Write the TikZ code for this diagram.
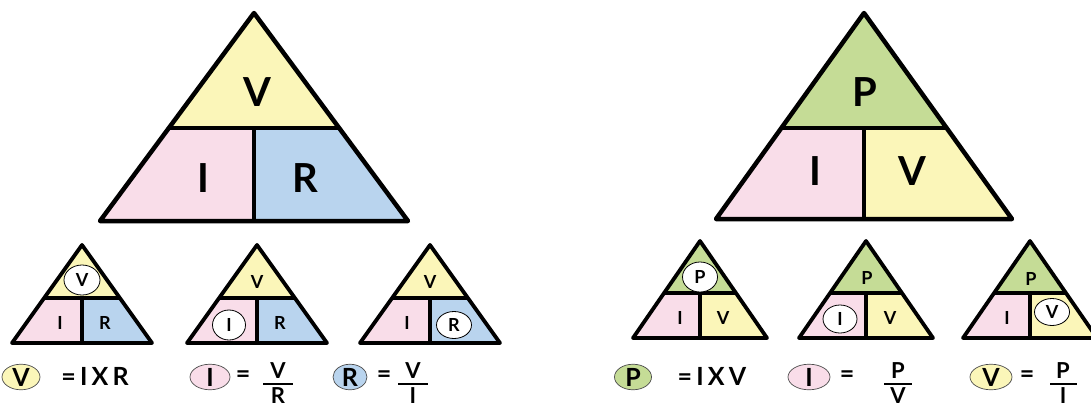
\documentclass[tikz,border=0pt]{standalone}
\usepackage{fontspec}
\setmainfont{Lato}
\usetikzlibrary{calc,shapes.geometric}
\definecolor{cy}{RGB}{251,246,185}
\definecolor{cp}{RGB}{249,221,233}
\definecolor{cb}{RGB}{185,212,238}
\definecolor{cg}{RGB}{197,220,150}
\newcommand{\tri}[9]{%
  \coordinate (#1a) at (#2,#3);
  \coordinate (#1l) at ({#2-#4},{#3+#5});
  \coordinate (#1r) at ({#2+#4},{#3+#5});
  \coordinate (#1b) at (#2,{#3+#5});
  \coordinate (#1t) at (#2,#6);
  \coordinate (#1ml) at ($(#1a)!{(#6-#3)/#5}!(#1l)$);
  \coordinate (#1mr) at ($(#1a)!{(#6-#3)/#5}!(#1r)$);
  \fill[#7] (#1a) -- (#1ml) -- (#1mr) -- cycle;
  \fill[#8] (#1ml) -- (#1l) -- (#1b) -- (#1t) -- cycle;
  \fill[#9] (#1t) -- (#1b) -- (#1r) -- (#1mr) -- cycle;
  \draw (#1ml) -- (#1mr);
  \draw (#1t) -- (#1b);
  \draw (#1a) -- (#1l) -- (#1r) -- cycle;
}
\begin{document}
\begin{tikzpicture}[x=1pt,y=-1pt,line join=round,
  lbl/.style={inner sep=0pt,font=\fontsize{#1}{#1}\selectfont\bfseries},
  circ/.style={ellipse,draw,fill=white,line width=0.8pt,inner sep=0pt,minimum width=36pt,minimum height=30pt,font=\fontsize{18}{18}\selectfont\bfseries},
  fcirc/.style={ellipse,draw=black!70,fill=#1,line width=0.7pt,inner sep=0pt,minimum width=38pt,minimum height=25pt,font=\fontsize{25}{25}\selectfont\bfseries},
  bar/.style={line width=1.5pt}]
\useasboundingbox (0,0) rectangle (1091,408);
\fill[white] (0,0) rectangle (1091,408);

% big triangles
\begin{scope}[line width=4.5pt]
\tri{BL}{254}{13}{154}{208}{128}{cy}{cp}{cb}
\tri{BR}{864}{13}{148}{206}{128}{cg}{cp}{cy}
\end{scope}
\node[lbl=40] (bv) at (257,92) {V};
\node[lbl=40] (bi) at (203,178) {I};
\node[lbl=40] (br) at (305,178) {R};
\node[lbl=40] (bp) at (865,92) {P};
\node[lbl=40] (bi2) at (815,171) {I};
\node[lbl=40] (bv2) at (912,171) {V};

% small triangles
\begin{scope}[line width=3.8pt]
\tri{sa}{82}{245}{70}{98}{298}{cy}{cp}{cb}
\tri{sb}{257}{245}{70}{98}{298}{cy}{cp}{cb}
\tri{sc}{430}{245}{70}{98}{298}{cy}{cp}{cb}
\tri{ta}{700}{241}{67}{97}{293}{cg}{cp}{cy}
\tri{tb}{866}{241}{67}{97}{293}{cg}{cp}{cy}
\tri{tc}{1030}{241}{67}{97}{293}{cg}{cp}{cy}
\end{scope}

\node[circ] (sav) at (82,280) {V};
\node[lbl=18] (sai) at (60,323) {I};
\node[lbl=18] (sar) at (105,323) {R};

\node[lbl=18] (sbv) at (257,282) {V};
\node[circ,minimum width=33pt] (sbi) at (229,325) {I};
\node[lbl=18] (sbr) at (280,323) {R};

\node[lbl=18] (scv) at (430,282) {V};
\node[lbl=18] (sci) at (407,323) {I};
\node[circ,minimum width=35pt,minimum height=27pt] (scr) at (454,325) {R};

\node[circ,minimum width=35pt] (tap) at (700,277) {P};
\node[lbl=18] (tai) at (680,318) {I};
\node[lbl=18] (tav) at (723,318) {V};

\node[lbl=18] (tbp) at (867,278) {P};
\node[circ,minimum width=34pt,minimum height=28pt] (tbi) at (840,319) {I};
\node[lbl=18] (tbv) at (890,318) {V};

\node[lbl=18] (tcp) at (1031,279) {P};
\node[lbl=18] (tci) at (1007,318) {I};
\node[circ,minimum width=35pt,minimum height=27pt] (tcv) at (1052,312) {V};

% formulas left
\node[fcirc=cy] (f1) at (21,377) {V};
\node[lbl=25] (f1r) at (95,376) {=\,I\,X\,R};
\node[fcirc=cp,minimum width=40pt] (f2) at (210,377) {I};
\node[lbl=25] (f2e) at (243,377) {=};
\node[lbl=22] (f2n) at (278,371) {V};
\node[lbl=22] (f2d) at (278,396) {R};
\draw[bar] (263,384) -- (293,384);
\node[fcirc=cb,minimum width=34pt] (f3) at (350,377) {R};
\node[lbl=25] (f3e) at (384,377) {=};
\node[lbl=22] (f3n) at (413,371) {V};
\node[lbl=22] (f3d) at (413,396) {I};
\draw[bar] (398,384) -- (428,384);

% formulas right
\node[fcirc=cg,minimum width=37pt] (g1) at (633,377) {P};
\node[lbl=25] (g1r) at (712,376) {=\,I\,X\,V};
\node[fcirc=cp,minimum width=42pt] (g2) at (809,377) {I};
\node[lbl=25] (g2e) at (847,377) {=};
\node[lbl=22] (g2n) at (898,371) {P};
\node[lbl=22] (g2d) at (898,396) {V};
\draw[bar] (884,384) -- (912,384);
\node[fcirc=cy,minimum width=42pt] (g3) at (991,377) {V};
\node[lbl=25] (g3e) at (1027,377) {=};
\node[lbl=22] (g3n) at (1063,371) {P};
\node[lbl=22] (g3d) at (1063,396) {I};
\draw[bar] (1050,384) -- (1077,384);
\end{tikzpicture}
\end{document}
